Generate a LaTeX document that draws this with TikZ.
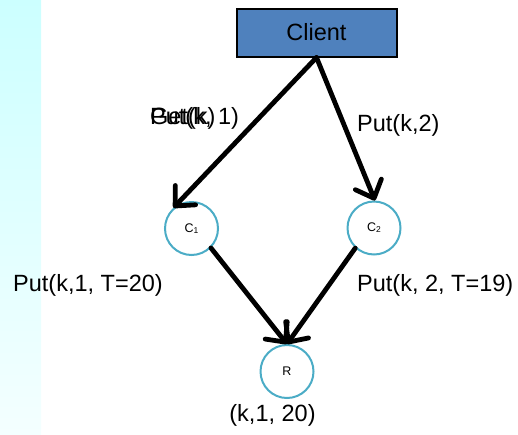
\documentclass[tikz,border=0pt]{standalone}
\usepackage{fontspec}
\setmainfont{Liberation Sans}
\usetikzlibrary{arrows.meta}
\definecolor{clientblue}{HTML}{4F81BD}
\definecolor{ringblue}{HTML}{4BACC6}
\definecolor{stripcyan}{HTML}{CCFFFF}
\definecolor{stripfade}{HTML}{F4FFFF}
\tikzset{
  replica/.style={circle, draw=ringblue, line width=2pt, fill=white,
    minimum size=53pt, inner sep=0pt, font=\fontsize{12.5}{14}\selectfont},
  clientbox/.style={draw=black, line width=2pt, fill=clientblue,
    minimum width=160pt, minimum height=48pt, inner sep=0pt,
    font=\fontsize{23.5}{28}\selectfont},
  msg/.style={inner sep=0pt, font=\fontsize{23.5}{28}\selectfont},
  flow/.style={line width=4.8pt, line cap=round,
    -{Straight Barb[length=15pt,width=28pt,round]}},
}
\newcommand{\sub}[1]{\raisebox{-1pt}{\fontsize{8.5}{9}\selectfont #1}}
\begin{document}
\begin{tikzpicture}[x=1pt, y=-1pt]
  \useasboundingbox (0,0) rectangle (518,434);
  % pale side band
  \shade[top color=stripcyan, bottom color=stripfade] (0,0) rectangle (41,434);

  \node[clientbox] (client) at (316.5,32.5) {Client};
  \node[replica] (c1) at (191.5,228.5) {C\sub{1}};
  \node[replica] (c2) at (374,228) {C\sub{2}};
  \node[replica] (r) at (287,371.5) {R};

  \draw[flow] (client.south) -- (c1.131);
  \draw[flow] (client.south) -- (c2.88);
  \draw[flow] (c1.-45) -- (r.north);
  \draw[flow] (c2.227) -- (r.north);

  % two request labels printed on top of each other on the left branch
  \node[msg, anchor=west] (lget) at (150,118) {Get(k)};
  \node[msg, anchor=west] (lput1) at (150,118) {Put(k, 1)};
  \node[msg, anchor=west] (lput2) at (357,125) {Put(k,2)};
  \node[msg, anchor=west] (lt20) at (13,285) {Put(k,1, T=20)};
  \node[msg, anchor=west] (lt19) at (357,285) {Put(k, 2, T=19)};
  \node[msg] (lres) at (272.5,415) {(k,1, 20)};
\end{tikzpicture}
\end{document}
